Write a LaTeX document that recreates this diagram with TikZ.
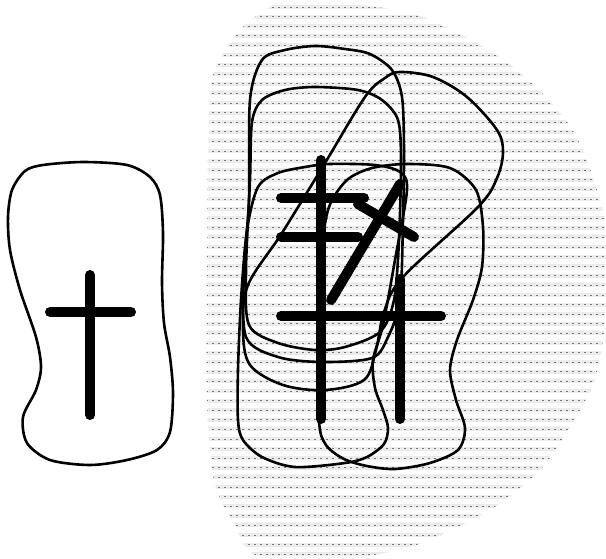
\documentclass[tikz,border=0pt]{standalone}
\usepackage{tikz}
\usetikzlibrary{calc}

\begin{document}
\begin{tikzpicture}[x=1pt, y=-1pt,
    outline/.style={draw=black, line width=2.6pt, line join=round},
    bar/.style={draw=black, line width=10pt, line cap=round},
    band/.style={draw=black!8, line width=4pt},
    dots/.style={draw=black!55, line width=1pt, dash pattern=on 2.4pt off 3.6pt}]
  \useasboundingbox (0,0) rectangle (606,558);

  % dotted field
  \begin{scope}
    \clip plot[smooth cycle] coordinates {(283,2) (335,2) (410,13) (460,34) (507,62)
      (541,92) (567,122) (583,150) (597,190) (605,225) (607,280) (603,340) (594,382)
      (580,410) (562,440) (542,468) (518,490) (493,508) (458,527) (410,547) (350,558)
      (268,558) (246,547) (233,522) (220,498) (212,470) (207,400) (207,300) (208,160)
      (211,85) (222,55) (240,30) (258,15)};
    \foreach \k in {0,...,57} {
      \draw[band] (200,{7+9.6*\k}) -- (610,{7+9.6*\k});
      \draw[dots] (200,{7+9.6*\k}) -- (610,{7+9.6*\k});
    }
  \end{scope}

  % left blob
  \draw[outline] plot[smooth cycle] coordinates {(12,190) (25,171) (43,165) (83,162)
    (127,165) (150,177) (160,195) (163,233) (162,283) (164,323) (170,357) (173,393)
    (170,432) (157,450) (127,460) (90,465) (50,460) (27,443) (23,417) (36,390)
    (41,367) (36,337) (20,290) (10,250) (8,217)};
  \draw[bar] (90,275) -- (90,415);
  \draw[bar] (50,312) -- (131,312);

  % right blobs
  \draw[outline] plot[smooth cycle] coordinates {(262,60) (285,50) (315,46) (345,49)
    (370,54) (392,70) (402,97) (404,150) (403,220) (400,300) (388,337) (372,358)
    (322,362) (278,357) (246,337) (244,270) (249,200) (250,100)};
  \draw[outline] plot[smooth cycle] coordinates {(262,100) (285,90) (315,87) (358,90)
    (382,100) (398,120) (401,160) (399,240) (394,300) (380,332) (345,347) (315,350)
    (278,343) (249,325) (246,270) (250,180) (252,122)};
  \draw[outline] plot[smooth cycle, tension=0.55] coordinates {(400,72) (433,77)
    (467,97) (497,130) (503,152) (497,178) (478,207) (403,277) (384,312) (376,350)
    (364,380) (325,390) (283,385) (250,365) (243,330) (248,285) (282,233) (325,163)
    (365,97) (385,78)};
  \draw[outline] plot[smooth cycle] coordinates {(258,187) (278,173) (305,167)
    (330,164) (375,165) (400,172) (407,190) (395,260) (383,325) (373,360) (375,388)
    (383,410) (388,428) (384,444) (367,457) (345,463) (295,467) (262,457) (243,440)
    (238,420) (238,370) (241,300) (247,230)};
  \draw[outline] plot[smooth cycle] coordinates {(329,207) (347,180) (372,168)
    (407,164) (450,168) (476,190) (483,227) (482,267) (473,300) (457,340) (450,370)
    (456,400) (465,428) (458,450) (430,463) (395,469) (367,466) (344,459) (326,445)
    (319,420) (320,330) (322,250)};

  % bars
  \draw[bar] (321,160) -- (321,419);
  \draw[bar] (400,279) -- (400,419);
  \draw[bar] (281,198) -- (364,198);
  \draw[bar] (281,237) -- (358,237);
  \draw[bar] (281,316) -- (441,316);
  \draw[bar] (331,300) -- (400,184);
  \draw[bar] (358,204) -- (414,237);
\end{tikzpicture}
\end{document}
